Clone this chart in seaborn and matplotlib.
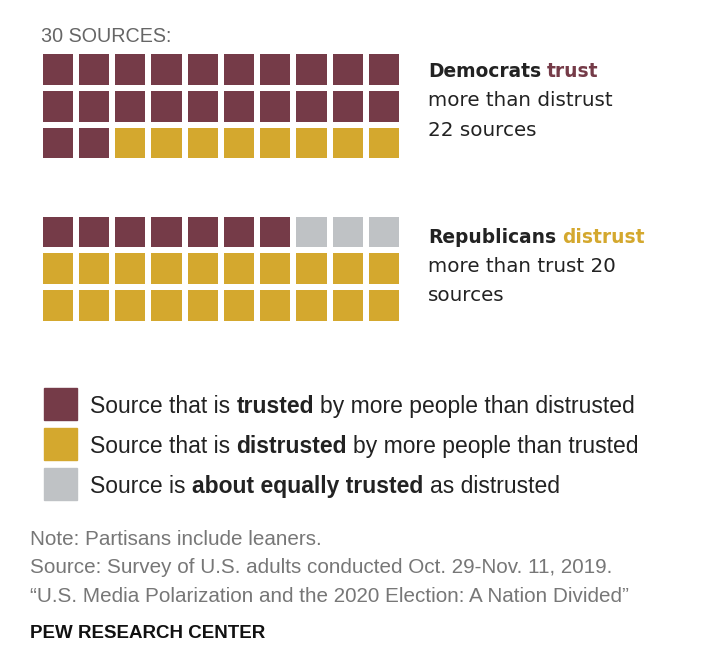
import numpy as np
import pandas as pd
import seaborn as sns
import matplotlib.pyplot as plt
from matplotlib.colors import ListedColormap

# categories in fill order and colours
categories = ['trusted', 'equal', 'distrusted']
colors = ['#753b48', '#bfc2c5', '#d4a82e']

dem_counts = [22, 0, 8]   # trusted, equal, distrusted
rep_counts = [7, 3, 20]

n_rows, n_cols = 3, 10

sns.set_theme(style='white')
plt.rcParams['font.family'] = ['Liberation Sans', 'DejaVu Sans']

W, H = 716, 666
fig = plt.figure(figsize=(W / 100, H / 100), dpi=100)
fig.patch.set_facecolor('white')


def px_axes(x0, y0, w, h):
    return fig.add_axes([x0 / W, 1 - (y0 + h) / H, w / W, h / H])


def waffle(counts):
    cells = np.concatenate([np.full(c, i) for i, c in enumerate(counts)])
    return pd.DataFrame(cells.reshape(n_rows, n_cols))


cmap = ListedColormap(colors)
for counts, top in [(dem_counts, 51.3), (rep_counts, 213.5)]:
    ax = px_axes(39.7, top, 362.5, 110)
    sns.heatmap(waffle(counts), ax=ax, cmap=cmap, vmin=-0.5, vmax=2.5,
                cbar=False, linewidths=2.9, linecolor='white',
                xticklabels=False, yticklabels=False)
    ax.set_xlabel('')
    ax.set_ylabel('')

renderer = fig.canvas.get_renderer()


def rich(x, y, parts, size, family=None):
    # parts: list of (text, weight, color); placed one after the other
    fam = family or plt.rcParams['font.family']
    probe1 = fig.text(0, 0, 'x x', fontsize=size, family=fam)
    probe2 = fig.text(0, 0, 'xx', fontsize=size, family=fam)
    space = (probe1.get_window_extent(renderer).width
             - probe2.get_window_extent(renderer).width)
    probe1.remove()
    probe2.remove()
    cx = x
    for i, (txt, weight, col) in enumerate(parts):
        t = fig.text(cx / W, 1 - y / H, txt, fontsize=size, fontweight=weight,
                     color=col, va='baseline', ha='left', family=fam)
        cx += t.get_window_extent(renderer).width
        if i < len(parts) - 1:
            cx += space


dark = '#222222'
grey = '#777777'
wide = ['DejaVu Sans']

fig.text(41 / W, 1 - 41.5 / H, '30 SOURCES:', fontsize=14.2, color='#666666',
         va='baseline')

rich(428, 77, [('Democrats', 'bold', dark), ('trust', 'bold', colors[0])], 13.4, family=wide)
rich(428, 106.5, [('more than distrust', 'normal', dark)], 14.3, family=wide)
rich(428, 136, [('22 sources', 'normal', dark)], 14.3, family=wide)

rich(428, 243, [('Republicans', 'bold', dark), ('distrust', 'bold', colors[2])], 13.4, family=wide)
rich(428, 272, [('more than trust 20', 'normal', dark)], 14.3, family=wide)
rich(428, 301, [('sources', 'normal', dark)], 14.3, family=wide)

# legend
legend_rows = [
    [('Source that is', 'normal', dark), ('trusted', 'bold', dark),
     ('by more people than distrusted', 'normal', dark)],
    [('Source that is', 'normal', dark), ('distrusted', 'bold', dark),
     ('by more people than trusted', 'normal', dark)],
    [('Source is', 'normal', dark), ('about equally trusted', 'bold', dark),
     ('as distrusted', 'normal', dark)],
]
legend_colors = [colors[0], colors[2], colors[1]]
for i, (parts, col) in enumerate(zip(legend_rows, legend_colors)):
    y0 = 388 + 40 * i
    fig.patches.append(plt.Rectangle((44 / W, 1 - (y0 + 32) / H), 33 / W, 32 / H,
                                     transform=fig.transFigure, color=col))
    rich(90, y0 + 25, parts, 16.5)

# footer
footer = [
    'Note: Partisans include leaners.',
    'Source: Survey of U.S. adults conducted Oct. 29-Nov. 11, 2019.',
    '\u201cU.S. Media Polarization and the 2020 Election: A Nation Divided\u201d',
]
for line, yb in zip(footer, [545, 573, 601.5]):
    fig.text(30 / W, 1 - yb / H, line, fontsize=14.9, color=grey, va='baseline')
fig.text(30 / W, 1 - 638 / H, 'PEW RESEARCH CENTER', fontsize=13.5,
         fontweight='bold', color='#111111', va='baseline')

fig.savefig('out.png', dpi=100, facecolor='white')
